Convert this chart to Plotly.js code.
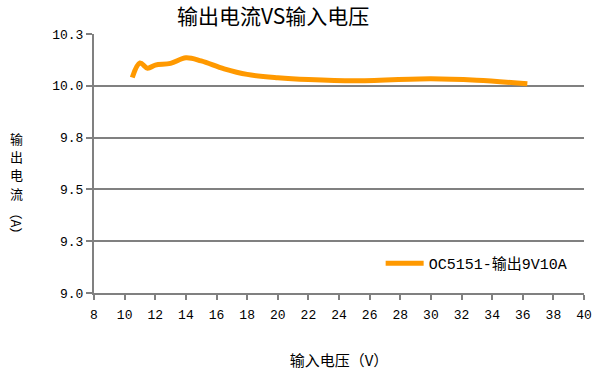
<!DOCTYPE html>
<html><head><meta charset="utf-8">
<script src="https://cdn.plot.ly/plotly-3.0.1.min.js"></script>
<style>body{margin:0;background:#fff}#c{width:607px;height:376px}</style>
</head><body><div id="c"></div>
<script>
const seriesName = 'OC5151-输出9V10A';
const voltage = [10.5, 11, 11.5, 12, 13, 14, 15, 16.5, 18, 20, 22, 25, 30, 33, 36.3];
const current = [10.04, 10.11, 10.085, 10.10, 10.108, 10.135, 10.12, 10.082, 10.055, 10.039, 10.03, 10.024, 10.034, 10.027, 10.01];
const yTickVals = [9.0, 9.25, 9.5, 9.75, 10.0, 10.25];
const yTickText = ['9.0', '9.3', '9.5', '9.8', '10.0', '10.3'];
const xTickVals = [8,10,12,14,16,18,20,22,24,26,28,30,32,34,36,38,40];
const yTitleChars = ['输', '出', '电', '流'];
const yTitleUnit = '（A）';

const mono = 'Liberation Mono, DejaVu Sans Mono, Noto Sans CJK SC, monospace';
const cjk = 'Noto Sans CJK SC, sans-serif';

const charY = [0.598, 0.528, 0.458, 0.386];
const ann = yTitleChars.map((c, i) => ({
  text: c, xref: 'paper', yref: 'paper', x: -0.159, y: charY[i],
  xanchor: 'center', yanchor: 'middle', showarrow: false,
  font: {family: cjk, size: 13, color: '#000'}
}));
ann.push({text: yTitleUnit, xref: 'paper', yref: 'paper', x: -0.159, y: 0.268, textangle: 90,
  xanchor: 'center', yanchor: 'middle', showarrow: false,
  font: {family: cjk, size: 13, color: '#000'}});

Plotly.newPlot('c', [{
  x: voltage, y: current, name: seriesName, type: 'scatter', mode: 'lines',
  line: {color: '#FF9900', width: 5, shape: 'spline', smoothing: 1}
}], {
  width: 607, height: 376,
  margin: {l: 94, r: 23, t: 34, b: 83},
  paper_bgcolor: '#fff', plot_bgcolor: '#fff',
  title: {text: '输出电流VS输入电压', font: {family: cjk, size: 21, color: '#000'},
          xref: 'container', x: 0.45, xanchor: 'center', yref: 'container', y: 0.955, yanchor: 'middle'},
  xaxis: {range: [8, 40], tickvals: xTickVals, ticktext: xTickVals.map(String),
          showgrid: false, zeroline: false, showline: true, linecolor: '#808080', linewidth: 2,
          ticks: 'outside', ticklen: 5, tickwidth: 2, tickcolor: '#808080', ticklabelstandoff: 3,
          tickfont: {family: mono, size: 13, color: '#000'},
          title: {text: '输入电压（V）', font: {family: cjk, size: 15, color: '#000'}, standoff: 34}},
  yaxis: {range: [9.0, 10.25], tickvals: yTickVals, ticktext: yTickText,
          showgrid: true, gridcolor: '#808080', gridwidth: 2, zeroline: false,
          showline: true, linecolor: '#808080', linewidth: 2,
          ticks: 'outside', ticklen: 6, tickwidth: 2, tickcolor: '#808080',
          tickfont: {family: mono, size: 13, color: '#000'}},
  showlegend: true,
  legend: {x: 0.585, y: 0.114, xanchor: 'left', yanchor: 'middle', bgcolor: 'rgba(0,0,0,0)',
           itemwidth: 38, font: {family: mono, size: 15, color: '#000'}},
  annotations: ann
}, {displayModeBar: false, staticPlot: true});
</script></body></html>
